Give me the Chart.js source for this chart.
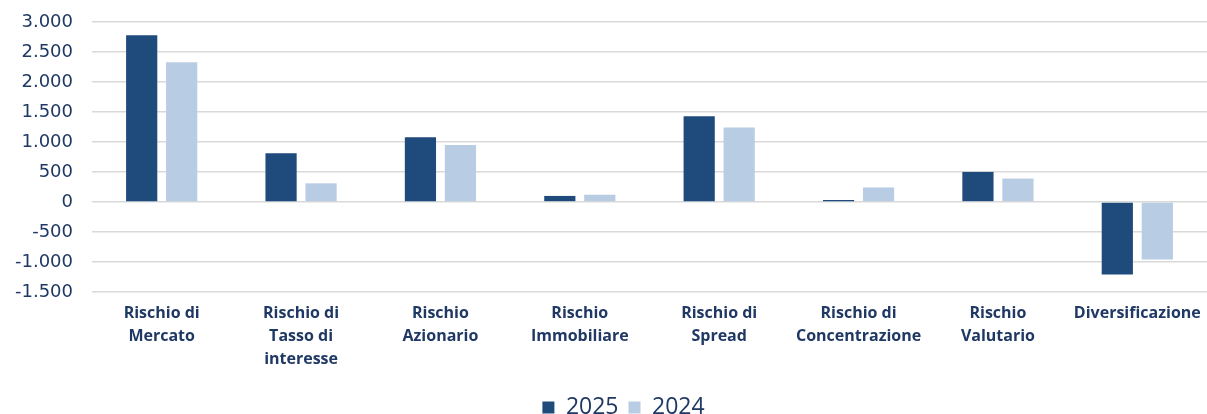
<!DOCTYPE html>
<html>
<head>
    <title>Rischi di mercato</title>
    <script src="https://cdn.jsdelivr.net/npm/chart.js"></script>
    <style>
        body { margin: 0; background: #fff; overflow: hidden; }
        #wrap { width: 1207px; height: 429px; }
    </style>
</head>
<body>
    <div id="wrap">
        <canvas id="riskChart"></canvas>
    </div>

    <script>
        // categories (multi-line labels)
        const categories = [
            ["Rischio di", "Mercato"],
            ["Rischio di", "Tasso di", "interesse"],
            ["Rischio", "Azionario"],
            ["Rischio", "Immobiliare"],
            ["Rischio di", "Spread"],
            ["Rischio di", "Concentrazione"],
            ["Rischio", "Valutario"],
            "Diversificazione"
        ];
        const values2025 = [2780, 810, 1080, 100, 1430, 30, 500, -1210];
        const values2024 = [2330, 310, 950, 120, 1240, 240, 390, -960];
        const yTicks = [-1500, -1000, -500, 0, 500, 1000, 1500, 2000, 2500, 3000];

        const navy = "#1f3864";

        // 2.500 style thousands separator
        function fmt(v) {
            const s = Math.abs(v).toString().replace(/\B(?=(\d{3})+(?!\d))/g, ".");
            return (v < 0 ? "-" : "") + s;
        }

        // legend in the original sits a bit right of centre
        const legendShift = {
            id: "legendShift",
            afterLayout(chart) {
                chart.legend.left += 20;
                chart.legend.right += 20;
            }
        };

        const ctx = document.getElementById("riskChart").getContext("2d");
        const riskChart = new Chart(ctx, {
            type: "bar",
            data: {
                labels: categories,
                datasets: [
                    {
                        label: "2025",
                        data: values2025,
                        backgroundColor: "#1f4a7c",
                        barPercentage: 0.78,
                        categoryPercentage: 0.574
                    },
                    {
                        label: "2024",
                        data: values2024,
                        backgroundColor: "#b8cce4",
                        barPercentage: 0.78,
                        categoryPercentage: 0.574
                    }
                ]
            },
            plugins: [legendShift],
            options: {
                responsive: true,
                maintainAspectRatio: false,
                animation: false,
                layout: { padding: 0 },
                plugins: {
                    tooltip: { enabled: false },
                    legend: {
                        position: "bottom",
                        labels: {
                            color: navy,
                            font: { family: "Open Sans", size: 23 },
                            boxWidth: 12,
                            boxHeight: 12,
                            padding: 10
                        }
                    }
                },
                scales: {
                    x: {
                        grid: { display: false },
                        border: { display: false },
                        ticks: {
                            color: navy,
                            maxRotation: 0,
                            autoSkip: false,
                            padding: 2,
                            font: { family: "Open Sans", size: 16, weight: "bold", lineHeight: 1.44 }
                        },
                        afterFit: function (axis) {
                            axis.height += 13;
                        }
                    },
                    y: {
                        min: -1500,
                        max: 3000,
                        afterBuildTicks: function (axis) {
                            axis.ticks = yTicks.map(v => ({ value: v }));
                        },
                        afterFit: function (axis) {
                            axis.width = 92;
                            axis.paddingTop = 22;
                            axis.paddingBottom = 0;
                        },
                        grid: { color: "#d9d9d9", lineWidth: 1.5, drawTicks: false },
                        border: { display: false },
                        ticks: {
                            color: navy,
                            padding: 19,
                            font: { family: "DejaVu Sans", size: 18 },
                            callback: v => fmt(v)
                        }
                    }
                }
            }
        });
    </script>
</body>
</html>
